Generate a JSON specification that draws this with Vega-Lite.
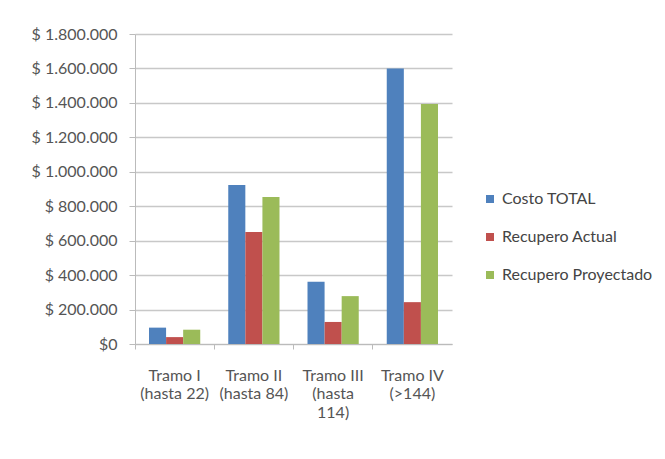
{
  "$schema": "https://vega.github.io/schema/vega-lite/v6.json",
  "width": 317,
  "height": 310,
  "autosize": {"type": "none"},
  "padding": {"left": 135, "top": 34, "right": 213, "bottom": 115},
  "background": "white",
  "config": {
    "font": "Lato",
    "view": {"stroke": null},
    "locale": {"number": {"decimal": ",", "thousands": ".", "grouping": [3], "currency": ["$ ", ""]}}
  },
  "data": {
    "values": [
      {"tramo": "Tramo I|(hasta 22)", "serie": "Costo TOTAL", "valor": 95000},
      {"tramo": "Tramo I|(hasta 22)", "serie": "Recupero Actual", "valor": 40000},
      {"tramo": "Tramo I|(hasta 22)", "serie": "Recupero Proyectado", "valor": 83000},
      {"tramo": "Tramo II|(hasta 84)", "serie": "Costo TOTAL", "valor": 923000},
      {"tramo": "Tramo II|(hasta 84)", "serie": "Recupero Actual", "valor": 650000},
      {"tramo": "Tramo II|(hasta 84)", "serie": "Recupero Proyectado", "valor": 853000},
      {"tramo": "Tramo III|(hasta|114)", "serie": "Costo TOTAL", "valor": 362000},
      {"tramo": "Tramo III|(hasta|114)", "serie": "Recupero Actual", "valor": 128000},
      {"tramo": "Tramo III|(hasta|114)", "serie": "Recupero Proyectado", "valor": 278000},
      {"tramo": "Tramo IV|(>144)", "serie": "Costo TOTAL", "valor": 1600000},
      {"tramo": "Tramo IV|(>144)", "serie": "Recupero Actual", "valor": 243000},
      {"tramo": "Tramo IV|(>144)", "serie": "Recupero Proyectado", "valor": 1394000}
    ]
  },
  "mark": {"type": "bar"},
  "encoding": {
    "x": {
      "field": "tramo",
      "type": "nominal",
      "sort": null,
      "title": null,
      "scale": {"paddingInner": 0, "paddingOuter": 0},
      "axis": {
        "labelAngle": 0,
        "labelExpr": "split(datum.label, '|')",
        "labelFontSize": 16,
        "labelColor": "#555555",
        "labelLineHeight": 18.5,
        "labelPadding": 18,
        "labelBaseline": "top",
        "bandPosition": 0,
        "ticks": true,
        "tickSize": 5,
        "tickColor": "#bbbbbb",
        "domainColor": "#bbbbbb",
        "grid": false
      }
    },
    "xOffset": {
      "field": "serie",
      "type": "nominal",
      "scale": {"paddingInner": 0, "paddingOuter": 0.82}
    },
    "y": {
      "field": "valor",
      "type": "quantitative",
      "title": null,
      "scale": {"domain": [0, 1800000], "nice": false},
      "axis": {
        "values": [0, 200000, 400000, 600000, 800000, 1000000, 1200000, 1400000, 1600000, 1800000],
        "format": "$,.0f",
        "labelExpr": "datum.value == 0 ? '$0' : datum.label",
        "labelFontSize": 16,
        "labelColor": "#555555",
        "labelPadding": 12,
        "tickSize": 6,
        "tickColor": "#bbbbbb",
        "domainColor": "#bbbbbb",
        "gridColor": "#c8c8c8",
        "gridWidth": 1.5
      }
    },
    "color": {
      "field": "serie",
      "type": "nominal",
      "scale": {
        "domain": ["Costo TOTAL", "Recupero Actual", "Recupero Proyectado"],
        "range": ["#4F81BD", "#C0504D", "#9BBB59"]
      },
      "legend": {
        "title": null,
        "orient": "none",
        "legendX": 347,
        "legendY": 157,
        "symbolType": "square",
        "symbolSize": 64,
        "symbolStrokeWidth": 0,
        "labelFontSize": 16,
        "labelColor": "#444444",
        "rowPadding": 22,
        "labelOffset": 4
      }
    }
  }
}
